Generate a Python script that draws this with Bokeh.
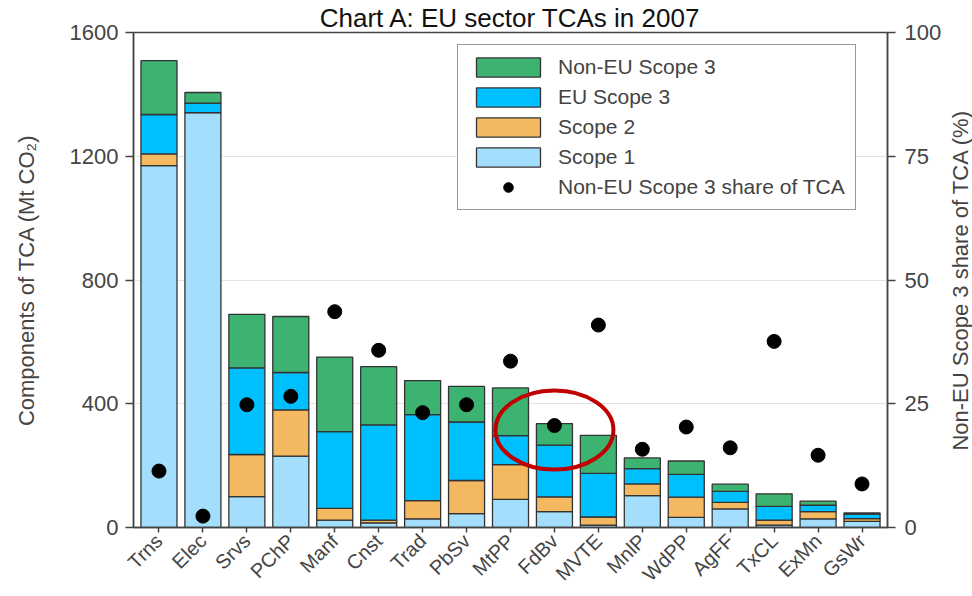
from bokeh.plotting import figure
from bokeh.models import (FactorRange, Range1d, LinearAxis, FixedTicker, Legend,
                          LegendItem, ColumnDataSource)
from bokeh.layouts import row
from bokeh.embed import file_html
from bokeh.resources import INLINE
import math

sectors = ["Trns", "Elec", "Srvs", "PChP", "Manf", "Cnst", "Trad", "PbSv", "MtPP",
           "FdBv", "MVTE", "MnlP", "WdPP", "AgFF", "TxCL", "ExMn", "GsWr"]
scope1 = [1170, 1341, 100, 231, 24, 15, 28, 45, 91, 51, 8, 103, 33, 60, 8, 28, 20]
scope2 = [38, 0, 136, 149, 38, 9, 59, 107, 112, 48, 26, 38, 65, 21, 16, 23, 9]
eu_scope3 = [127, 31, 280, 121, 248, 308, 278, 189, 94, 167, 141, 49, 74, 36, 44, 21, 14]
non_eu_scope3 = [174, 34, 173, 181, 241, 188, 110, 115, 154, 70, 123, 35, 43, 23, 41, 13, 4]
non_eu_share = [11.4, 2.3, 24.8, 26.5, 43.6, 35.8, 23.2, 24.8, 33.6, 20.6, 40.9, 15.8,
                20.3, 16.1, 37.6, 14.6, 8.8]
left_ticks = [0, 400, 800, 1200, 1600]
right_ticks = [0, 25, 50, 75, 100]

highlight_sector = "FdBv"
highlight_value = 315

FONT = "Liberation Sans"
AXIS_GREY = "#444444"
colors = ["#A3DEFD", "#F4B860", "#00BFFF", "#3CB371"]
stack_keys = ["s1", "s2", "eu", "neu"]

src = ColumnDataSource(dict(x=sectors, s1=scope1, s2=scope2, eu=eu_scope3,
                            neu=non_eu_scope3, share=non_eu_share))

p = figure(width=944, height=596, output_backend="svg", toolbar_location=None,
           title="Chart A: EU sector TCAs in 2007",
           x_range=FactorRange(factors=sectors, range_padding=0.08,
                               range_padding_units="absolute"),
           y_range=Range1d(0, 1600))
p.min_border_left = 133
p.min_border_right = 57
p.min_border_top = 0
p.min_border_bottom = 59
p.outline_line_color = AXIS_GREY
p.outline_line_width = 1.5
p.background_fill_color = "white"
p.border_fill_color = "white"

p.title.align = "center"
p.title.text_font = FONT
p.title.text_font_size = "26px"
p.title.text_font_style = "normal"
p.title.text_color = "#111111"
p.title.standoff = 0
p.title.offset = 0

rs = p.vbar_stack(stack_keys, x="x", width=0.82, source=src, color=colors,
                  line_color="#333333", line_width=1.3)

p.extra_y_ranges = {"share": Range1d(0, 100)}
dots = p.scatter(x="x", y="share", source=src, y_range_name="share", size=14,
                 color="black")

p.ellipse(x=[highlight_sector], y=[highlight_value], width=118, height=79,
          width_units="screen", height_units="screen", fill_alpha=0,
          line_color="#C00000", line_width=4)

# left axis
yax = p.yaxis[0]
yax.ticker = FixedTicker(ticks=left_ticks)
yax.axis_label = "Components of TCA (Mt CO\u2082)"
yax.axis_label_text_font = FONT
yax.axis_label_text_font_size = "22px"
yax.axis_label_text_font_style = "normal"
yax.axis_label_standoff = 28
yax.major_label_text_font = FONT
yax.major_label_text_font_size = "22px"
yax.major_label_standoff = 7
yax.major_tick_out = 8
yax.major_tick_in = 0
yax.minor_tick_out = 0
yax.minor_tick_in = 0
yax.axis_line_color = AXIS_GREY
yax.axis_line_width = 1.5
yax.major_tick_line_color = AXIS_GREY
yax.major_tick_line_width = 1.5

# right axis (ticks); its title is drawn by the narrow figure beside it
rax = LinearAxis(y_range_name="share", ticker=FixedTicker(ticks=right_ticks))
rax.major_label_text_font = FONT
rax.major_label_text_font_size = "22px"
rax.major_label_standoff = 9
rax.major_tick_out = 8
rax.major_tick_in = 0
rax.minor_tick_out = 0
rax.minor_tick_in = 0
rax.axis_line_color = AXIS_GREY
rax.axis_line_width = 1.5
rax.major_tick_line_color = AXIS_GREY
rax.major_tick_line_width = 1.5
p.add_layout(rax, "right")

xax = p.xaxis[0]
xax.major_label_orientation = math.pi / 4
xax.major_label_text_font = FONT
xax.major_label_text_font_size = "20px"
xax.major_tick_out = 5
xax.major_tick_in = 0
xax.major_label_standoff = 5
xax.axis_line_color = AXIS_GREY
xax.axis_line_width = 1.5
xax.major_tick_line_color = AXIS_GREY
xax.major_tick_line_width = 1.5

p.xgrid.grid_line_color = None
p.ygrid.ticker = FixedTicker(ticks=left_ticks)
p.ygrid.grid_line_color = "#e3e3e3"
p.ygrid.grid_line_width = 1

legend = Legend(items=[
    LegendItem(label="Non-EU Scope 3", renderers=[rs[3]]),
    LegendItem(label="EU Scope 3", renderers=[rs[2]]),
    LegendItem(label="Scope 2", renderers=[rs[1]]),
    LegendItem(label="Scope 1", renderers=[rs[0]]),
    LegendItem(label="Non-EU Scope 3 share of TCA", renderers=[dots]),
], location=(324, 317))
legend.glyph_width = 80
legend.glyph_height = 24
legend.label_height = 24
legend.spacing = 6
legend.padding = 10
legend.margin = 0
legend.label_standoff = 10
legend.label_text_font = FONT
legend.label_text_font_size = "21px"
legend.border_line_color = "#333333"
legend.border_line_width = 1
legend.background_fill_alpha = 1
p.add_layout(legend)

# narrow companion figure carrying the right-hand axis title (reads bottom-to-top)
p2 = figure(width=28, height=596, output_backend="svg", toolbar_location=None,
            x_range=Range1d(0, 1), y_range=Range1d(0, 100))
p2.min_border_left = 0
p2.min_border_right = 0
p2.min_border_top = 30
p2.min_border_bottom = 69
p2.outline_line_color = None
p2.xaxis.visible = False
p2.grid.visible = False
ax2 = p2.yaxis[0]
ax2.ticker = FixedTicker(ticks=[])
ax2.axis_line_color = None
ax2.major_tick_line_color = None
ax2.minor_tick_line_color = None
ax2.axis_label = "Non-EU Scope 3 share of TCA (%)"
ax2.axis_label_text_font = FONT
ax2.axis_label_text_font_size = "22px"
ax2.axis_label_text_font_style = "normal"
ax2.axis_label_standoff = 0

layout = row(p, p2, spacing=0)

open("out.html", "w").write(file_html(layout, INLINE))
